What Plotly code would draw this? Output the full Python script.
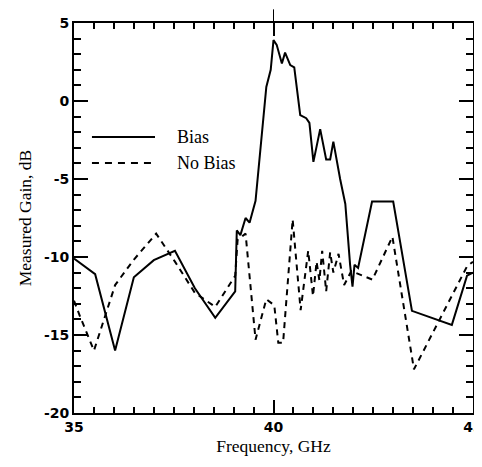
import plotly.graph_objects as go

# Bias (solid)
bias_freq = [35.0, 35.53, 36.03, 36.5, 37.0, 37.53, 38.03, 38.54, 39.04, 39.08, 39.17, 39.3, 39.4,
             39.55, 39.82, 39.93, 40.0, 40.08, 40.21, 40.29, 40.42, 40.52, 40.67, 40.82, 40.9,
             41.0, 41.17, 41.32, 41.42, 41.5, 41.67, 41.8, 41.92, 41.98, 42.03, 42.12, 42.47,
             43.0, 43.47, 44.47, 44.85, 45.0]
bias_gain = [-10.1, -11.1, -16.0, -11.3, -10.2, -9.6, -12.0, -13.9, -12.2, -8.3, -8.6, -7.5, -7.8,
             -6.4, 0.9, 2.0, 3.9, 3.6, 2.4, 3.1, 2.3, 2.15, -0.9, -1.1, -1.4,
             -3.9, -1.8, -3.75, -3.75, -2.6, -5.0, -6.6, -10.5, -11.9, -10.5, -10.7, -6.45,
             -6.45, -13.45, -14.35, -11.2, -11.0]

# No Bias (dashed)
nobias_freq = [35.0, 35.15, 35.5, 36.03, 36.49, 37.06, 37.53, 38.03, 38.54, 38.95, 39.04, 39.1,
               39.3, 39.55, 39.82, 40.02, 40.12, 40.2, 40.24, 40.48, 40.68, 40.87, 40.99, 41.08,
               41.15, 41.22, 41.32, 41.42, 41.5, 41.63, 41.77, 41.95, 42.15, 42.48, 42.98, 43.52,
               44.85, 45.0]
nobias_gain = [-12.8, -13.8, -16.0, -11.8, -10.2, -8.5, -10.3, -12.3, -13.2, -11.5, -11.2, -8.9,
               -8.5, -15.3, -12.7, -13.1, -15.5, -15.5, -15.5, -7.6, -13.4, -9.6, -12.5, -10.3,
               -11.5, -9.6, -12.2, -9.7, -11.0, -9.8, -11.8, -10.9, -11.1, -11.45, -8.7, -17.2,
               -10.6, -10.3]

legend_labels = ["Bias", "No Bias"]
x_ticks = [35, 40, 45]
y_ticks = [5, 0, -5, -10, -15, -20]

fig = go.Figure()
fig.add_trace(go.Scatter(x=bias_freq, y=bias_gain, mode="lines", name=legend_labels[0],
                         line=dict(color="black", width=2), showlegend=False))
fig.add_trace(go.Scatter(x=nobias_freq, y=nobias_gain, mode="lines", name=legend_labels[1],
                         line=dict(color="black", width=2, dash="6px,5px"), showlegend=False))

tick_font = dict(family="DejaVu Sans", size=14, color="black")
title_font = dict(family="Liberation Serif", size=17.5, color="black")

fig.update_xaxes(range=[35, 45], tickvals=x_ticks, ticktext=["<b>%d</b>" % v for v in x_ticks],
                 ticks="inside", ticklen=13, tickcolor="black", tickwidth=2,
                 showline=True, linecolor="black", linewidth=2, mirror="allticks",
                 minor=dict(dtick=0.5, tick0=35, ticks="inside", ticklen=6, tickcolor="black",
                            tickwidth=2),
                 ticklabeloverflow="allow", tickfont=tick_font,
                 title=dict(text="Frequency, GHz", standoff=6, font=title_font))
fig.update_yaxes(range=[-20, 5], tickvals=y_ticks, ticktext=["<b>%d</b>" % v for v in y_ticks],
                 ticks="inside", ticklen=14, tickcolor="black", tickwidth=2,
                 showline=True, linecolor="black", linewidth=2, mirror="allticks",
                 minor=dict(dtick=1, tick0=0, ticks="inside", ticklen=7, tickcolor="black",
                            tickwidth=2),
                 ticklabeloverflow="allow", tickfont=tick_font,
                 title=dict(text="Measured Gain, dB", standoff=8, font=title_font))

# legend drawn manually
fig.add_shape(type="line", xref="paper", yref="paper", x0=0.045, x1=0.203, y0=0.708, y1=0.708,
              line=dict(color="black", width=2), opacity=1)
fig.add_shape(type="line", xref="paper", yref="paper", x0=0.045, x1=0.203, y0=0.641, y1=0.641,
              line=dict(color="black", width=2, dash="7px,6px"), opacity=1)
fig.add_annotation(xref="paper", yref="paper", x=0.253, y=0.708, text=legend_labels[0],
                   showarrow=False, xanchor="left", yanchor="middle",
                   font=dict(family="Liberation Serif", size=18, color="black"))
fig.add_annotation(xref="paper", yref="paper", x=0.253, y=0.641, text=legend_labels[1],
                   showarrow=False, xanchor="left", yanchor="middle",
                   font=dict(family="Liberation Serif", size=18, color="black"))
# stray tick above the frame at 40 GHz
fig.add_shape(type="line", xref="x", yref="paper", x0=40, x1=40, y0=1.0, y1=1.035,
              line=dict(color="black", width=1), opacity=1)

# page body has an 8px margin, so the figure is offset to land the plot area where the reference has it
fig.update_layout(template="simple_white", width=482, height=459,
                  margin=dict(l=66, r=17, t=7, b=54),
                  plot_bgcolor="white", paper_bgcolor="white")
fig.write_html("out.html")
